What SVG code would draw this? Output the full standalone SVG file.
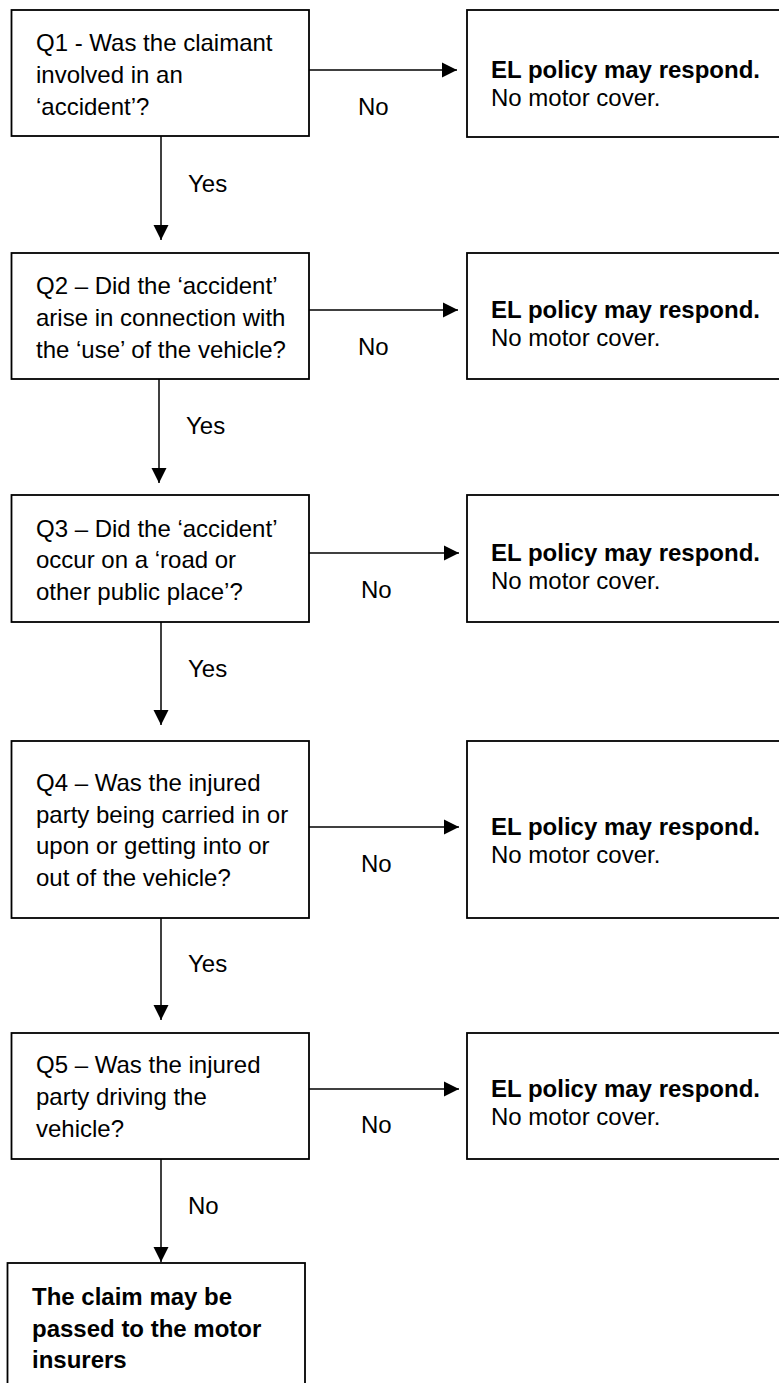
<svg xmlns="http://www.w3.org/2000/svg" width="779" height="1383" viewBox="0 0 779 1383">
<style>
  .box { fill: #ffffff; stroke: #000000; stroke-width: 1.8; }
  .t { font-family: "Liberation Sans", Arial, sans-serif; font-size: 24px; fill: #000000; }
  .b { font-weight: bold; }
  .conn { stroke: #000000; stroke-width: 1.5; fill: none; marker-end: url(#arr); }
</style>
<defs>
  <marker id="arr" markerUnits="userSpaceOnUse" markerWidth="16" markerHeight="16" refX="15" refY="8" orient="auto">
    <path d="M0,0.5 L15,8 L0,15.5 z" fill="#000000"/>
  </marker>
</defs>
<rect width="779" height="1383" fill="#ffffff"/>

<g id="connectors">
  <line class="conn" x1="309" y1="70" x2="457" y2="70"/>
  <line class="conn" x1="161" y1="136" x2="161" y2="240"/>
  <line class="conn" x1="309" y1="310" x2="458" y2="310"/>
  <line class="conn" x1="159" y1="379" x2="159" y2="483"/>
  <line class="conn" x1="309" y1="553" x2="459" y2="553"/>
  <line class="conn" x1="161" y1="622" x2="161" y2="725"/>
  <line class="conn" x1="309" y1="827" x2="459" y2="827"/>
  <line class="conn" x1="161" y1="918" x2="161" y2="1020"/>
  <line class="conn" x1="309" y1="1089" x2="459" y2="1089"/>
  <line class="conn" x1="161" y1="1159" x2="161" y2="1262"/>
  <text class="t" x="358" y="115">No</text>
  <text class="t" x="188" y="192">Yes</text>
  <text class="t" x="358" y="355">No</text>
  <text class="t" x="186" y="434">Yes</text>
  <text class="t" x="361" y="598">No</text>
  <text class="t" x="188" y="677">Yes</text>
  <text class="t" x="361" y="872">No</text>
  <text class="t" x="188" y="972">Yes</text>
  <text class="t" x="361" y="1133">No</text>
  <text class="t" x="188" y="1214">No</text>
</g>

<g id="q1">
  <rect class="box" x="11.5" y="10" width="297.5" height="126"/>
  <text class="t" x="36" y="51">Q1 - Was the claimant</text>
  <text class="t" x="36" y="83">involved in an</text>
  <text class="t" x="36" y="115">‘accident’?</text>
</g>
<g id="el1">
  <rect class="box" x="467" y="10" width="330" height="127"/>
  <text class="t b" x="491" y="78">EL policy may respond.</text>
  <text class="t" x="491" y="106">No motor cover.</text>
</g>

<g id="q2">
  <rect class="box" x="11.5" y="253" width="297.5" height="126"/>
  <text class="t" x="36" y="294">Q2 – Did the ‘accident’</text>
  <text class="t" x="36" y="326">arise in connection with</text>
  <text class="t" x="36" y="358">the ‘use’ of the vehicle?</text>
</g>
<g id="el2">
  <rect class="box" x="467" y="253" width="330" height="126"/>
  <text class="t b" x="491" y="318">EL policy may respond.</text>
  <text class="t" x="491" y="346">No motor cover.</text>
</g>

<g id="q3">
  <rect class="box" x="11.5" y="495" width="297.5" height="127"/>
  <text class="t" x="36" y="537">Q3 – Did the ‘accident’</text>
  <text class="t" x="36" y="568">occur on a ‘road or</text>
  <text class="t" x="36" y="600">other public place’?</text>
</g>
<g id="el3">
  <rect class="box" x="467" y="495" width="330" height="127"/>
  <text class="t b" x="491" y="561">EL policy may respond.</text>
  <text class="t" x="491" y="589">No motor cover.</text>
</g>

<g id="q4">
  <rect class="box" x="11.5" y="741" width="297.5" height="177"/>
  <text class="t" x="36" y="791">Q4 – Was the injured</text>
  <text class="t" x="36" y="823">party being carried in or</text>
  <text class="t" x="36" y="854">upon or getting into or</text>
  <text class="t" x="36" y="886">out of the vehicle?</text>
</g>
<g id="el4">
  <rect class="box" x="467" y="741" width="330" height="177"/>
  <text class="t b" x="491" y="835">EL policy may respond.</text>
  <text class="t" x="491" y="863">No motor cover.</text>
</g>

<g id="q5">
  <rect class="box" x="11.5" y="1033" width="297.5" height="126"/>
  <text class="t" x="36" y="1073">Q5 – Was the injured</text>
  <text class="t" x="36" y="1105">party driving the</text>
  <text class="t" x="36" y="1137">vehicle?</text>
</g>
<g id="el5">
  <rect class="box" x="467" y="1033" width="330" height="126"/>
  <text class="t b" x="491" y="1097">EL policy may respond.</text>
  <text class="t" x="491" y="1125">No motor cover.</text>
</g>

<g id="final">
  <rect class="box" x="7.5" y="1263" width="297.5" height="140"/>
  <text class="t b" x="32" y="1305">The claim may be</text>
  <text class="t b" x="32" y="1337">passed to the motor</text>
  <text class="t b" x="32" y="1368">insurers</text>
</g>
</svg>
